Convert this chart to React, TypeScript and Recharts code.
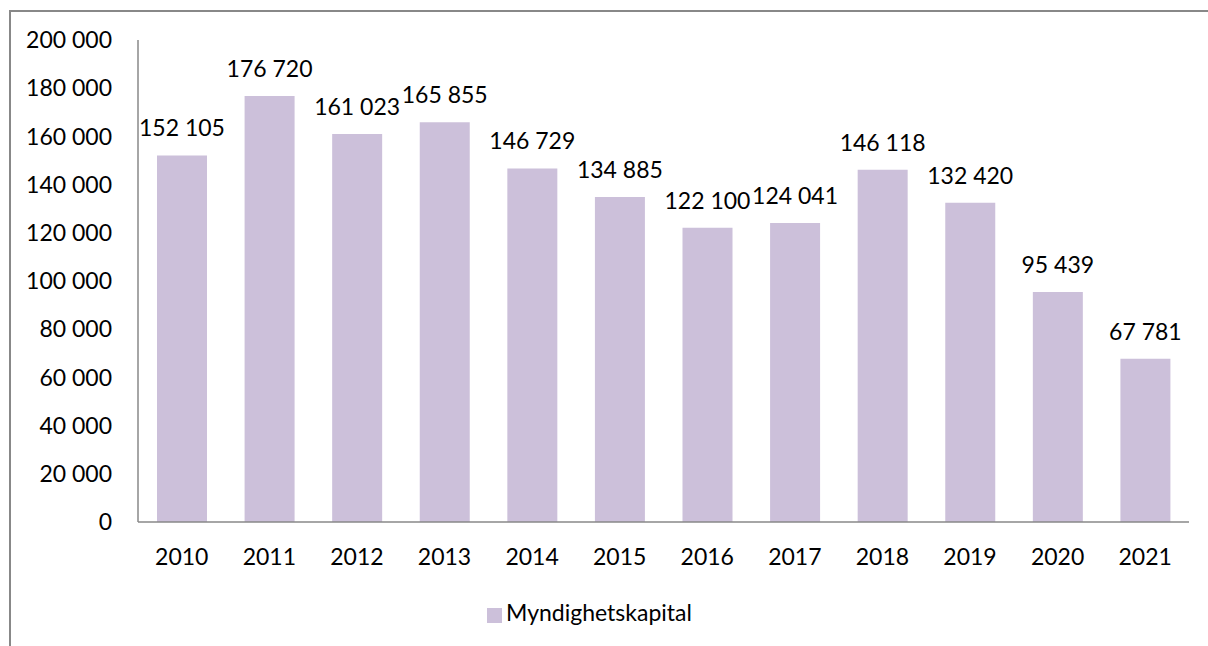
import { BarChart, Bar, XAxis, YAxis, Legend, LabelList } from "recharts";

const years = ["2010", "2011", "2012", "2013", "2014", "2015", "2016", "2017", "2018", "2019", "2020", "2021"];
const capital = [152105, 176720, 161023, 165855, 146729, 134885, 122100, 124041, 146118, 132420, 95439, 67781];
const yTicks = [0, 20000, 40000, 60000, 80000, 100000, 120000, 140000, 160000, 180000, 200000];

const data = years.map((year, i) => ({ year, Myndighetskapital: capital[i] }));

const fmt = (v: any) => String(v).replace(/\B(?=(\d{3})+(?!\d))/g, " ");

const FONT = "Lato, 'Open Sans', sans-serif";
const FS = 23;

// plain text label so it never wraps to the bar width
const renderLabel = (props: any) => {
    const { x, y, width, value } = props;
    return (
        <text x={x + width / 2} y={y - 19} textAnchor="middle" fill="#000" fontSize={FS} fontFamily={FONT}>
            {fmt(value)}
        </text>
    );
};

export default function App() {
    return (
        <div style={{ position: "absolute", left: 0, top: 0, width: 1208, height: 646, background: "#fff", overflow: "hidden", fontFamily: FONT }}>
            <div style={{ position: "absolute", left: 9, top: 10, width: 1300, height: 700, borderTop: "2px solid #888", borderLeft: "2px solid #888" }} />
            <div style={{ position: "absolute", left: 0, top: 0 }}>
                <BarChart width={1208} height={646} data={data} margin={{ top: 40, right: 19, bottom: 54, left: 0 }}>
                    <YAxis
                        width={138}
                        domain={[0, 200000]}
                        ticks={yTicks}
                        tickFormatter={fmt}
                        tickLine={false}
                        tickSize={0}
                        tickMargin={26}
                        axisLine={{ stroke: "#888", strokeWidth: 1.5 }}
                        tick={{ fill: "#000", fontSize: FS, fontFamily: FONT }}
                    />
                    <XAxis
                        dataKey="year"
                        height={40}
                        tickLine={false}
                        tickSize={0}
                        tickMargin={27}
                        axisLine={{ stroke: "#888", strokeWidth: 1.5 }}
                        tick={{ fill: "#000", fontSize: FS, fontFamily: FONT }}
                        interval={0}
                    />
                    <Legend
                        verticalAlign="bottom"
                        align="center"
                        iconType="square"
                        iconSize={15}
                        wrapperStyle={{ fontSize: FS, fontFamily: FONT, top: 597, bottom: "auto", lineHeight: "30px" }}
                        formatter={(value: any) => <span style={{ color: "#000" }}>{value}</span>}
                    />
                    <Bar dataKey="Myndighetskapital" fill="#CCC0DA" barSize={50} isAnimationActive={false}>
                        <LabelList dataKey="Myndighetskapital" content={renderLabel} />
                    </Bar>
                </BarChart>
            </div>
        </div>
    );
}
